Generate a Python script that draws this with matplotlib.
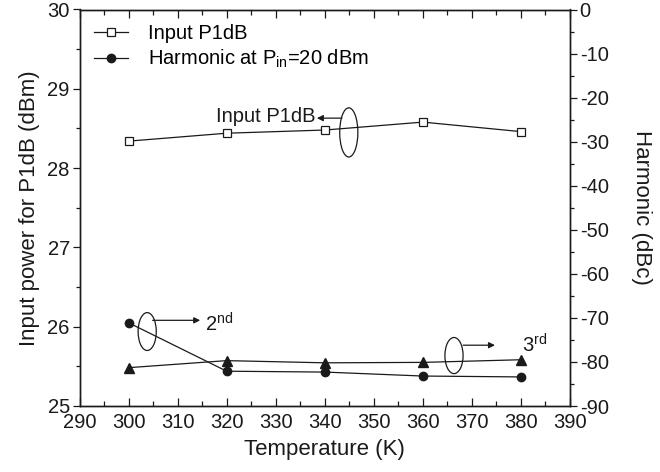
import matplotlib
matplotlib.use("Agg")
import matplotlib.pyplot as plt
from matplotlib.patches import Ellipse
from matplotlib.ticker import MultipleLocator

plt.rcParams["font.family"] = ["Liberation Sans", "DejaVu Sans"]
plt.rcParams["mathtext.fontset"] = "custom"
plt.rcParams["mathtext.rm"] = "Liberation Sans"
plt.rcParams["mathtext.default"] = "regular"
plt.rcParams["axes.unicode_minus"] = False

temps = [300, 320, 340, 360, 380]
p1db = [28.34, 28.44, 28.48, 28.58, 28.46]          # input P1dB (dBm)
harm2 = [-71.1, -82.1, -82.3, -83.2, -83.4]         # 2nd harmonic (dBc)
harm3 = [-81.3, -79.7, -80.2, -80.1, -79.5]         # 3rd harmonic (dBc)

INK = "#1a1a1a"
FS = 14.5
LFS = 16

fig = plt.figure(figsize=(6.6, 4.72), dpi=100)
ax = fig.add_subplot(111)
fig.subplots_adjust(left=79.5 / 660, right=570 / 660, top=1 - 9.5 / 472, bottom=1 - 406 / 472)
ax2 = ax.twinx()

l1, = ax.plot(temps, p1db, color=INK, lw=0.9, marker="s", ms=5.5,
              mfc="white", mec=INK, mew=0.9, label="Input P1dB")
l2, = ax2.plot(temps, harm2, color=INK, lw=0.9, marker="o", ms=6,
               mfc=INK, mec=INK, label="Harmonic at P$_{in}$=20 dBm")
ax2.plot(temps, harm3, color=INK, lw=0.9, marker="^", ms=6.5, mfc=INK, mec=INK)

ax.set_xlim(290, 390)
ax.set_ylim(25, 30)
ax2.set_ylim(-90, 0)
ax.xaxis.set_major_locator(MultipleLocator(10))
ax.xaxis.set_minor_locator(MultipleLocator(5))
ax.yaxis.set_major_locator(MultipleLocator(1))
ax.yaxis.set_minor_locator(MultipleLocator(0.5))
ax2.yaxis.set_major_locator(MultipleLocator(10))
ax2.yaxis.set_minor_locator(MultipleLocator(5))

ax.tick_params(axis="x", which="both", direction="in", top=True, labelsize=FS, colors=INK, pad=5)
ax.tick_params(axis="x", which="major", length=6, width=0.9)
ax.tick_params(axis="x", which="minor", length=3.5, width=0.9)
ax.tick_params(axis="y", which="both", direction="out", labelsize=FS, colors=INK, pad=2)
ax.tick_params(axis="y", which="major", length=5, width=0.9)
ax.tick_params(axis="y", which="minor", length=3, width=0.9)
ax2.tick_params(axis="y", which="both", direction="out", labelsize=FS, colors=INK, pad=2)
ax2.tick_params(axis="y", which="major", length=5, width=0.9)
ax2.tick_params(axis="y", which="minor", length=3, width=0.9)
for a in (ax, ax2):
    for sp in a.spines.values():
        sp.set_linewidth(1.0)
        sp.set_color(INK)

ax.set_xlabel("Temperature (K)", fontsize=LFS, color=INK, labelpad=5)
ax.set_ylabel("Input power for P1dB (dBm)", fontsize=LFS, color=INK, labelpad=5)
ax2.set_ylabel("Harmonic (dBc)", fontsize=LFS, color=INK, rotation=270, labelpad=31)

# callouts: ellipse around a curve, arrow to its name
arrow = dict(arrowstyle="-|>", color=INK, lw=0.9, mutation_scale=9, shrinkA=0, shrinkB=0)
ax.add_patch(Ellipse((344.9, 28.45), 3.7, 0.62, fill=False, ec=INK, lw=0.9))
ax.annotate("", xy=(338.4, 28.63), xytext=(343.5, 28.63), arrowprops=arrow)
ax.text(338.2, 28.65, "Input P1dB", ha="right", va="center", fontsize=FS, color=INK)

ax2.add_patch(Ellipse((303.8, -73.1), 3.7, 8.6, fill=False, ec=INK, lw=0.9))
ax2.annotate("", xy=(314.6, -70.55), xytext=(304.9, -70.55), arrowprops=arrow)
ax2.text(315.6, -73.0, "2$^{nd}$", ha="left", va="baseline", fontsize=FS, color=INK)

ax2.add_patch(Ellipse((366.35, -78.55), 3.7, 8.2, fill=False, ec=INK, lw=0.9))
ax2.annotate("", xy=(374.7, -76.2), xytext=(368.2, -76.2), arrowprops=arrow)
ax2.text(380.2, -77.8, "3$^{rd}$", ha="left", va="baseline", fontsize=FS, color=INK)

ax2.legend(handles=[l1, l2], loc="upper left", bbox_to_anchor=(0.005, 0.995),
           frameon=False, fontsize=FS, handlelength=1.7, handletextpad=1.0,
           labelspacing=0.25, borderaxespad=0.3, borderpad=0.3)

fig.savefig("out.png", dpi=100)
